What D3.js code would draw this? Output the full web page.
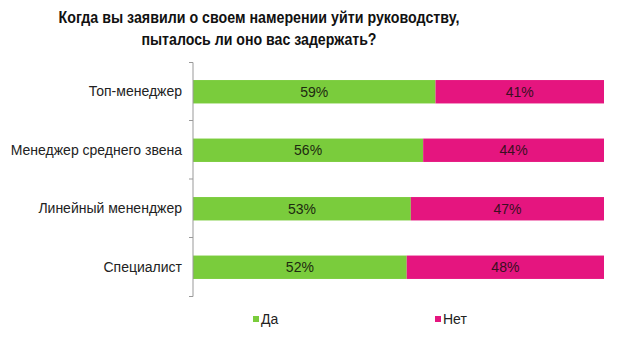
<!DOCTYPE html>
<html><head><meta charset="utf-8">
<script src="https://cdn.jsdelivr.net/npm/d3@7"></script>
<style>body{margin:0;background:#fff}svg{display:block}</style>
</head><body>
<script>
const categories = ["Топ-менеджер", "Менеджер среднего звена", "Линейный мененджер", "Специалист"];
const yesValues = [59, 56, 53, 52];
const noValues = [41, 44, 47, 48];
const seriesNames = ["Да", "Нет"];
const colors = ["#7acc3c", "#e5157f"];
const titleLines = ["Когда вы заявили о своем намерении уйти руководству,", "пыталось ли оно вас задержать?"];
const titleWidths = [401, 235];

const W = 620, H = 344;
const svg = d3.select("body").append("svg").attr("width", W).attr("height", H);

const x = d3.scaleLinear().domain([0, 100]).range([193, 604]);
const y = d3.scaleBand().domain(categories).range([62.5, 296.5]).paddingInner(0.6).paddingOuter(0.3);

const sans = "'Liberation Sans', Arial, sans-serif";

// title, condensed to a narrow bold face
svg.append("g").selectAll("text").data(titleLines).join("text")
  .attr("x", 259).attr("y", (d, i) => 23 + i * 22)
  .attr("text-anchor", "middle")
  .attr("textLength", (d, i) => titleWidths[i])
  .attr("lengthAdjust", "spacingAndGlyphs")
  .style("font-family", sans)
  .style("font-weight", "bold").style("font-size", "17px").style("fill", "#111")
  .text(d => d);

// stacked rows
const rows = categories.map((c, i) => ({cat: c, vals: [yesValues[i], noValues[i]]}));
const g = svg.append("g");
rows.forEach(r => {
  let acc = 0;
  r.vals.forEach((v, j) => {
    g.append("rect")
      .attr("x", x(acc)).attr("y", y(r.cat))
      .attr("width", x(acc + v) - x(acc)).attr("height", y.bandwidth())
      .attr("fill", colors[j]);
    g.append("text")
      .attr("x", (x(acc) + x(acc + v)) / 2).attr("y", y(r.cat) + y.bandwidth() / 2)
      .attr("dy", "0.35em").attr("text-anchor", "middle")
      .style("font-family", sans).style("font-size", "14px")
      .style("fill", j === 0 ? "#1d2a10" : "#3a0f22")
      .text(v + "%");
    acc += v;
  });
});

// category axis
const yAxis = d3.axisLeft(y).tickSize(0).tickPadding(11);
const ag = svg.append("g").attr("transform", "translate(193,0)").call(yAxis);
ag.select(".domain").attr("stroke", "#999").attr("d", "M-4,62.5H0V296.5H-4");
ag.selectAll("text").style("font-family", sans).style("font-size", "14px").style("fill", "#222");
// separators between categories
const step = y.step();
svg.append("g").selectAll("line").data(categories.slice(1)).join("line")
  .attr("x1", 189).attr("x2", 193)
  .attr("y1", d => y(d) - y.paddingInner() * step / 2 - 0.5)
  .attr("y2", d => y(d) - y.paddingInner() * step / 2 - 0.5)
  .attr("stroke", "#999");

// legend
const legX = [253, 435];
const lg = svg.append("g").selectAll("g").data(seriesNames).join("g")
  .attr("transform", (d, i) => `translate(${legX[i]},319)`);
lg.append("rect").attr("x", 0).attr("y", -3).attr("width", 6).attr("height", 6).attr("fill", (d, i) => colors[i]);
lg.append("text").attr("x", 8).attr("y", 0).attr("dy", "0.35em")
  .style("font-family", sans).style("font-size", "14px").style("fill", "#222")
  .text(d => d);
</script>
</body></html>
